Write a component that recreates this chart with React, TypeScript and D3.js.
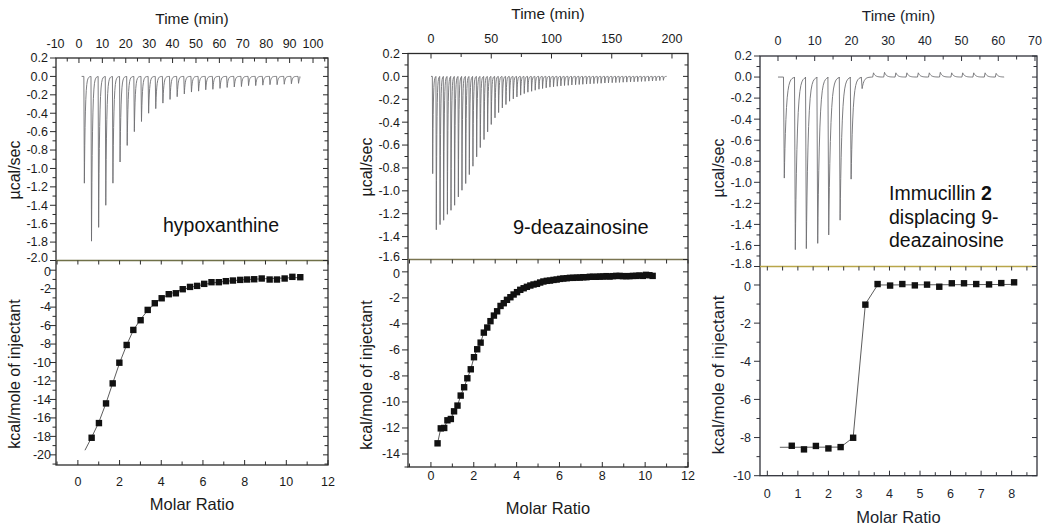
import React from 'react';
import * as d3 from 'd3';

const FONT = '"Liberation Sans", Arial, Helvetica, sans-serif';

// ---------- Panel 1: hypoxanthine ----------
const p1SpikeTimes = [2.1, 5.15, 8.2, 11.25, 14.3, 17.35, 20.4, 23.45, 26.5, 29.55, 32.6, 35.65, 38.7, 41.75, 44.8, 47.85, 50.9, 53.95, 57.0, 60.05, 63.1, 66.15, 69.2, 72.25, 75.3, 78.35, 81.4, 84.45, 87.5, 90.55, 93.6];
const p1SpikeDepths = [-1.16, -1.79, -1.64, -1.4, -1.16, -0.93, -0.75, -0.6, -0.49, -0.4, -0.35, -0.29, -0.25, -0.22, -0.19, -0.17, -0.16, -0.145, -0.14, -0.13, -0.12, -0.115, -0.11, -0.1, -0.1, -0.095, -0.09, -0.09, -0.085, -0.08, -0.075];
const p1Baseline = [1.15, 94.4];
const p1Molar = [0.66, 1.01, 1.35, 1.67, 1.99, 2.34, 2.66, 3.01, 3.35, 3.69, 4.02, 4.36, 4.7, 5.03, 5.38, 5.72, 6.06, 6.41, 6.76, 7.1, 7.44, 7.79, 8.12, 8.46, 8.82, 9.2, 9.55, 9.92, 10.29, 10.67];
const p1Heat = [-18.15, -16.56, -14.43, -12.26, -10.02, -8.1, -6.47, -5.42, -4.3, -3.58, -3.04, -2.6, -2.5, -2.06, -1.81, -1.7, -1.48, -1.3, -1.3, -1.19, -1.12, -1.05, -1.01, -0.98, -0.9, -1.01, -1.01, -0.9, -0.72, -0.76];
const p1FitMolar = [0.34, 0.66, 1.0, 1.35, 1.67, 2.0, 2.34, 2.66, 3.0, 3.35, 3.7, 4.0, 4.5, 5.0, 5.7, 6.4, 7.1, 8.0, 9.0, 10.0, 10.67];
const p1FitHeat = [-19.5, -18.1, -16.5, -14.4, -12.25, -10.05, -8.1, -6.5, -5.35, -4.35, -3.6, -3.05, -2.5, -2.1, -1.7, -1.4, -1.2, -1.02, -0.92, -0.84, -0.8];
const p1TimeTicks = [-10, 0, 10, 20, 30, 40, 50, 60, 70, 80, 90, 100];
const p1PowerTicks = [0.2, 0.0, -0.2, -0.4, -0.6, -0.8, -1.0, -1.2, -1.4, -1.6, -1.8, -2.0];
const p1MolarTicks = [0, 2, 4, 6, 8, 10, 12];
const p1HeatTicks = [0, -2, -4, -6, -8, -10, -12, -14, -16, -18, -20];

// ---------- Panel 2: 9-deazainosine ----------
const p2SpikeTimes = [1.1, 4.1, 7.2, 10.2, 13.3, 16.3, 19.3, 22.4, 25.4, 28.5, 31.5, 34.5, 37.6, 40.6, 43.7, 46.7, 49.7, 52.8, 55.8, 58.9, 61.9, 64.9, 68.0, 71.0, 74.1, 77.1, 80.1, 83.2, 86.2, 89.3, 92.3, 95.3, 98.4, 101.4, 104.5, 107.5, 110.5, 113.6, 116.6, 119.7, 122.7, 125.7, 128.8, 131.8, 134.9, 137.9, 140.9, 144.0, 147.0, 150.1, 153.1, 156.1, 159.2, 162.2, 165.3, 168.3, 171.3, 174.4, 177.4, 180.5, 183.5, 186.5, 189.6, 192.6];
const p2SpikeDepths = [-0.85, -1.34, -1.295, -1.257, -1.205, -1.17, -1.126, -1.053, -0.995, -0.936, -0.858, -0.785, -0.703, -0.622, -0.552, -0.485, -0.42, -0.362, -0.316, -0.275, -0.246, -0.217, -0.196, -0.179, -0.164, -0.15, -0.138, -0.13, -0.121, -0.112, -0.106, -0.1, -0.094, -0.091, -0.086, -0.083, -0.08, -0.078, -0.075, -0.073, -0.071, -0.069, -0.067, -0.065, -0.063, -0.061, -0.06, -0.058, -0.057, -0.055, -0.054, -0.053, -0.051, -0.05, -0.048, -0.047, -0.046, -0.044, -0.043, -0.041, -0.04, -0.038, -0.036, -0.034];
const p2Baseline = [0, 195.6];
const p2Molar = [0.31, 0.46, 0.62, 0.77, 0.93, 1.08, 1.24, 1.39, 1.55, 1.7, 1.86, 2.01, 2.16, 2.32, 2.47, 2.63, 2.78, 2.94, 3.09, 3.25, 3.4, 3.55, 3.71, 3.86, 4.02, 4.17, 4.33, 4.48, 4.64, 4.79, 4.95, 5.1, 5.25, 5.41, 5.56, 5.72, 5.87, 6.03, 6.18, 6.34, 6.49, 6.64, 6.8, 6.95, 7.11, 7.26, 7.42, 7.57, 7.73, 7.88, 8.04, 8.19, 8.34, 8.5, 8.65, 8.81, 8.96, 9.12, 9.27, 9.43, 9.58, 9.73, 9.89, 10.04, 10.2, 10.35];
const p2Heat = [-13.18, -12.03, -12.0, -11.41, -11.31, -10.72, -10.28, -9.51, -8.87, -8.18, -7.49, -6.56, -5.95, -5.44, -4.67, -4.28, -3.79, -3.36, -3.03, -2.62, -2.41, -2.15, -1.95, -1.74, -1.56, -1.38, -1.26, -1.15, -1.05, -0.97, -0.92, -0.82, -0.74, -0.69, -0.67, -0.62, -0.59, -0.54, -0.51, -0.49, -0.46, -0.46, -0.44, -0.44, -0.41, -0.41, -0.38, -0.38, -0.38, -0.36, -0.36, -0.33, -0.36, -0.33, -0.31, -0.31, -0.33, -0.33, -0.33, -0.31, -0.31, -0.28, -0.31, -0.23, -0.26, -0.31];
const p2TimeTicks = [0, 50, 100, 150, 200];
const p2PowerTicks = [0.2, 0.0, -0.2, -0.4, -0.6, -0.8, -1.0, -1.2, -1.4, -1.6];
const p2MolarTicks = [0, 2, 4, 6, 8, 10, 12];
const p2HeatTicks = [0, -2, -4, -6, -8, -10, -12, -14];

// ---------- Panel 3: Immucillin 2 displacing 9-deazainosine ----------
const p3SpikeTimes = [1.5, 4.5, 7.5, 10.6, 13.6, 16.7, 19.7, 22.7, 25.8, 28.8, 31.9, 34.9, 38.0, 41.0, 44.0, 47.1, 50.1, 53.1, 56.2, 59.2];
const p3SpikeDepths = [-0.96, -1.64, -1.63, -1.58, -1.5, -1.36, -0.97, -0.11, 0.04, 0.045, 0.04, 0.04, 0.04, 0.04, 0.045, 0.04, 0.04, 0.04, 0.04, 0.035];
const p3Baseline = [0, 61.6];
const p3Molar = [0.8, 1.2, 1.59, 2.0, 2.4, 2.81, 3.21, 3.61, 4.02, 4.42, 4.83, 5.23, 5.63, 6.04, 6.44, 6.84, 7.26, 7.66, 8.08];
const p3Heat = [-8.43, -8.62, -8.44, -8.57, -8.5, -8.01, -1.03, 0.05, -0.03, 0.05, -0.02, 0.02, -0.09, 0.09, 0.09, 0.05, 0.03, 0.1, 0.14];
const p3FitMolar = [0.41, 2.4, 2.81, 3.21, 3.61, 8.08];
const p3FitHeat = [-8.51, -8.5, -8.0, -1.0, 0.0, 0.03];
const p3TimeTicks = [0, 10, 20, 30, 40, 50, 60, 70];
const p3PowerTicks = [0.2, 0.0, -0.2, -0.4, -0.6, -0.8, -1.0, -1.2, -1.4, -1.6, -1.8];
const p3MolarTicks = [0, 1, 2, 3, 4, 5, 6, 7, 8];
const p3HeatTicks = [0, -2, -4, -6, -8, -10];

type Cfg = any;

const panels: Cfg[] = [
  {
    L: 56, R: 328, T: 58, S: 260.5, B: 465,
    timeDomain: [-9.8, 106.4], powerDomain: [-2.0, 0.2], molarDomain: [-1.05, 12], heatDomain: [-21.1, 1.05],
    spikeTimes: p1SpikeTimes, spikeDepths: p1SpikeDepths, baseline: p1Baseline, drop: 0.22, tau: 0.4,
    molar: p1Molar, heat: p1Heat, fitMolar: p1FitMolar, fitHeat: p1FitHeat,
    timeTicks: p1TimeTicks, timeMinor: 5, powerTicks: p1PowerTicks, molarTicks: p1MolarTicks, molarMinor: 1, heatTicks: p1HeatTicks,
    timeLabelY: 48, timeTitleY: 24, molarLabelY: 486, molarTitleY: 510,
    yTitleX: 20, uTitleY: 170, kTitleY: 374, powerLabelOff: 8, heatLabelOff: 5,
    note: ['hypoxanthine'], noteX: 163, noteY: [232], noteSize: 19.5,
    sepColor: '#6f7048', textColor: '#1a1a1a', frameColor: '#2b2b2b', tickSize: 12.5, kSize: 16,
  },
  {
    L: 408, R: 688, T: 53.5, S: 259.5, B: 467,
    timeDomain: [-19.1, 213.3], powerDomain: [-1.6, 0.2], molarDomain: [-1.07, 12], heatDomain: [-15, 0.95],
    spikeTimes: p2SpikeTimes, spikeDepths: p2SpikeDepths, baseline: p2Baseline, drop: 0.3, tau: 0.45,
    molar: p2Molar, heat: p2Heat, fitMolar: p2Molar, fitHeat: p2Heat,
    timeTicks: p2TimeTicks, timeMinor: 25, powerTicks: p2PowerTicks, molarTicks: p2MolarTicks, molarMinor: 1, heatTicks: p2HeatTicks,
    timeLabelY: 43, timeTitleY: 18.5, molarLabelY: 479.5, molarTitleY: 514,
    yTitleX: 372, uTitleY: 167, kTitleY: 375, powerLabelOff: 8, heatLabelOff: 8,
    note: ['9-deazainosine'], noteX: 513, noteY: [234], noteSize: 20,
    sepColor: '#7a7450', textColor: '#1a1a1a', frameColor: '#2b2b2b', tickSize: 12.5, kSize: 16,
  },
  {
    L: 760, R: 1037, T: 56, S: 266.5, B: 475.7,
    timeDomain: [-4.9, 70.55], powerDomain: [-1.8, 0.2], molarDomain: [-0.24, 8.83], heatDomain: [-10, 0.97],
    spikeTimes: p3SpikeTimes, spikeDepths: p3SpikeDepths, baseline: p3Baseline, drop: 0.22, tau: 0.5,
    molar: p3Molar, heat: p3Heat, fitMolar: p3FitMolar, fitHeat: p3FitHeat,
    timeTicks: p3TimeTicks, timeMinor: 5, powerTicks: p3PowerTicks, molarTicks: p3MolarTicks, molarMinor: 0.5, heatTicks: p3HeatTicks,
    timeLabelY: 45, timeTitleY: 21, molarLabelY: 497.5, molarTitleY: 523,
    yTitleX: 724, uTitleY: 168, kTitleY: 375, powerLabelOff: 8, heatLabelOff: 9,
    note: ['Immucillin ', 'displacing 9-', 'deazainosine'], noteX: 889, noteY: [200, 224, 247], noteSize: 19.5,
    sepColor: '#b9a64a', textColor: '#1c1f2e', frameColor: '#30323a', tickSize: 12.5, kSize: 17,
  },
];

function thermogram(times: number[], depths: number[], base: number[], drop: number, tau: number) {
  const pts: [number, number][] = [[base[0], 0]];
  times.forEach((t0, i) => {
    const next = i < times.length - 1 ? times[i + 1] : base[1];
    pts.push([t0, 0]);
    pts.push([t0 + drop, depths[i]]);
    const span = Math.max(0.01, next - t0 - drop - 0.02);
    const n = 14;
    for (let k = 1; k <= n; k++) {
      const dt = span * Math.pow(k / n, 1.8);
      pts.push([t0 + drop + dt, depths[i] * Math.exp(-dt / tau)]);
    }
  });
  pts.push([base[1], 0]);
  return pts;
}

function minorRange(domain: number[], step: number) {
  const lo = Math.ceil(domain[0] / step - 1e-9) * step;
  const out: number[] = [];
  for (let v = lo; v <= domain[1] + 1e-9; v += step) out.push(+v.toFixed(6));
  return out;
}

function Panel({ c }: { c: Cfg }) {
  const tx = d3.scaleLinear().domain(c.timeDomain).range([c.L, c.R]);
  const py = d3.scaleLinear().domain(c.powerDomain).range([c.S, c.T]);
  const mx = d3.scaleLinear().domain(c.molarDomain).range([c.L, c.R]);
  const hy = d3.scaleLinear().domain(c.heatDomain).range([c.B, c.S]);
  const axisCol = c.frameColor;
  const tc = c.textColor;

  const thermo = thermogram(c.spikeTimes, c.spikeDepths, c.baseline, c.drop, c.tau);
  const line = d3.line<[number, number]>().x(d => tx(d[0])).y(d => py(d[1]));
  const fitPts: [number, number][] = c.fitMolar.map((m: number, i: number) => [m, c.fitHeat[i]]);
  const fitLine = d3.line<[number, number]>().x(d => mx(d[0])).y(d => hy(d[1]));

  const timeMinor = minorRange(c.timeDomain, c.timeMinor);
  const powerMinor = minorRange(c.powerDomain, 0.1);
  const molarMinor = minorRange(c.molarDomain, c.molarMinor);
  const heatMinor = minorRange(c.heatDomain, 1);
  const isMajor = (arr: number[], v: number) => arr.some(a => Math.abs(a - v) < 1e-6);

  const ticks: JSX.Element[] = [];
  let k = 0;
  timeMinor.forEach(v => {
    const len = isMajor(c.timeTicks, v) ? 5 : 3.5;
    ticks.push(<line key={k++} x1={tx(v)} x2={tx(v)} y1={c.T} y2={c.T + len} />);
  });
  powerMinor.forEach(v => {
    if (py(v) > c.S + 0.5 || py(v) < c.T - 0.5) return;
    const maj = isMajor(c.powerTicks, v);
    ticks.push(<line key={k++} x1={c.L - (maj ? 6 : 3.5)} x2={c.L} y1={py(v)} y2={py(v)} />);
    ticks.push(<line key={k++} x1={c.R - (maj ? 5 : 3.5)} x2={c.R} y1={py(v)} y2={py(v)} />);
  });
  molarMinor.forEach(v => {
    const maj = isMajor(c.molarTicks, v);
    ticks.push(<line key={k++} x1={mx(v)} x2={mx(v)} y1={c.S} y2={c.S + 4} />);
    ticks.push(<line key={k++} x1={mx(v)} x2={mx(v)} y1={c.B} y2={c.B - (maj ? 5 : 3.5)} />);
  });
  heatMinor.forEach(v => {
    if (hy(v) < c.S + 0.5) return;
    const maj = isMajor(c.heatTicks, v);
    ticks.push(<line key={k++} x1={c.L - (maj ? 6 : 3.5)} x2={c.L} y1={hy(v)} y2={hy(v)} />);
    ticks.push(<line key={k++} x1={c.R - (maj ? 5 : 3.5)} x2={c.R} y1={hy(v)} y2={hy(v)} />);
  });

  const cx = (c.L + c.R) / 2;
  const pMin = c.powerDomain[0];
  return (
    <g fontFamily={FONT}>
      <path d={line(thermo) || ''} fill="none" stroke="#6e6e72" strokeWidth={0.9} />
      <path d={fitLine(fitPts) || ''} fill="none" stroke="#4a4a4a" strokeWidth={0.9} />
      {c.molar.map((m: number, i: number) => (
        <rect key={i} x={mx(m) - 3.2} y={hy(c.heat[i]) - 3.2} width={6.4} height={6.4} fill="#111" />
      ))}
      <rect x={c.L} y={c.T} width={c.R - c.L} height={c.B - c.T} fill="none" stroke={axisCol} strokeWidth={1.3} />
      <line x1={c.L} x2={c.R} y1={c.S} y2={c.S} stroke={c.sepColor} strokeWidth={1.4} />
      <g stroke={axisCol} strokeWidth={1}>{ticks}</g>
      <g fill={tc} fontSize={c.tickSize}>
        {c.timeTicks.map((v: number) => (
          <text key={'t' + v} x={tx(v)} y={c.timeLabelY} textAnchor="middle">{String(v)}</text>
        ))}
        {c.powerTicks.map((v: number) => (
          <text key={'p' + v} x={c.L - c.powerLabelOff} y={py(v) - (Math.abs(v - pMin) < 1e-6 ? 3 : 0)} dy="0.35em" textAnchor="end">{v.toFixed(1)}</text>
        ))}
        {c.heatTicks.map((v: number) => (
          <text key={'h' + v} x={c.L - c.heatLabelOff} y={hy(v) + (v === 0 ? 1.5 : 0)} dy="0.35em" textAnchor="end">{String(v)}</text>
        ))}
        {c.molarTicks.map((v: number) => (
          <text key={'m' + v} x={mx(v)} y={c.molarLabelY} textAnchor="middle">{String(v)}</text>
        ))}
      </g>
      <text x={cx} y={c.timeTitleY} textAnchor="middle" fontSize={15.5} fill={tc}>Time (min)</text>
      <text x={cx} y={c.molarTitleY} textAnchor="middle" fontSize={16.5} fill={tc}>Molar Ratio</text>
      <text transform={`translate(${c.yTitleX},${c.uTitleY}) rotate(-90)`} textAnchor="middle" fontSize={16} fill={tc}>µcal/sec</text>
      <text transform={`translate(${c.yTitleX},${c.kTitleY}) rotate(-90)`} textAnchor="middle" fontSize={c.kSize} fill={tc}>kcal/mole of injectant</text>
      {c.note.map((s: string, i: number) => (
        <text key={'n' + i} x={c.noteX} y={c.noteY[i]} fontSize={c.noteSize} fill="#111">
          {s}
          {c.note.length > 1 && i === 0 ? <tspan fontWeight="bold">2</tspan> : null}
        </text>
      ))}
    </g>
  );
}

export default function App() {
  return (
    <svg width={1050} height={532} style={{ position: 'absolute', left: 0, top: 0, background: '#fff' }}>
      <rect x={0} y={0} width={1050} height={532} fill="#fff" />
      {panels.map((c, i) => <Panel key={i} c={c} />)}
    </svg>
  );
}
